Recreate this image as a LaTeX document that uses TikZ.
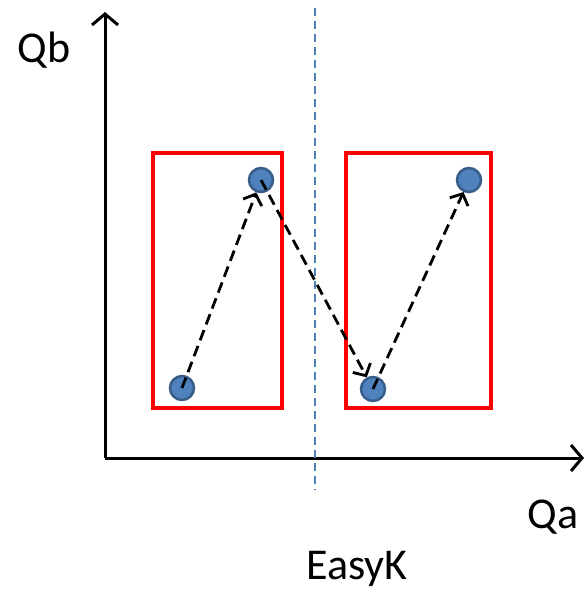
\documentclass[tikz,border=0pt]{standalone}
\usepackage{fontspec}
\setmainfont{Carlito}
\usetikzlibrary{arrows.meta}
\definecolor{dotblue}{RGB}{79,129,189}
\definecolor{dotedge}{RGB}{56,93,138}
\definecolor{boxred}{RGB}{255,0,0}
\begin{document}
\begin{tikzpicture}[x=1pt,y=-1pt,
  axis/.style={line width=3pt,-{Straight Barb[length=11pt,width=26pt,line width=3pt]}},
  region/.style={draw=boxred,line width=4pt},
  divider/.style={draw=dotblue,line width=2.2pt,dash pattern=on 8pt off 5pt},
  dot/.style={circle,fill=dotblue,draw=dotedge,line width=2.5pt,minimum size=24pt,inner sep=0pt},
  move/.style={line width=2.8pt,dash pattern=on 11pt off 6pt,-{Straight Barb[length=9pt,width=20pt,line width=2.8pt]}},
  lbl/.style={font=\fontsize{44}{52}\selectfont,inner sep=0pt}]
\useasboundingbox (0,0) rectangle (585,590);
\fill[white] (0,0) rectangle (585,590);
\coordinate (o) at (105,458);
\coordinate (ytop) at (105,12);
\coordinate (xend) at (584,458);
\draw[axis] (o) -- (ytop);
\draw[axis] (o) -- (xend);
\draw[region] (153,153) rectangle (282,408);
\draw[region] (346,153) rectangle (491,408);
\coordinate (dtop) at (315,8);
\coordinate (dbot) at (315,490);
\draw[divider] (dtop) -- (dbot);
\node[dot] (p1) at (182,388) {};
\node[dot] (p2) at (261,180) {};
\node[dot] (p3) at (373,389) {};
\node[dot] (p4) at (469,180) {};
\draw[move] (p1.center) -- (p2);
\draw[move] (p2.center) -- (p3);
\draw[move] (p3.center) -- (p4);
\node[lbl] (qb) at (44,50) {Qb};
\node[lbl] (qa) at (553,517) {Qa};
\node[lbl] (ek) at (357,569) {EasyK};
\end{tikzpicture}
\end{document}
